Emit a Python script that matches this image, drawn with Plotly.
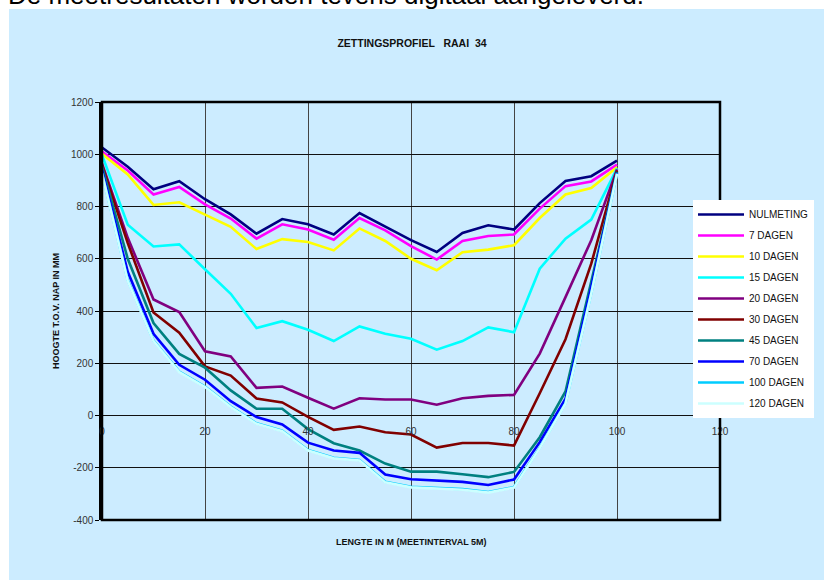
import plotly.graph_objects as go

# ---- data ----
x_m = [0, 5, 10, 15, 20, 25, 30, 35, 40, 45, 50, 55, 60, 65, 70, 75, 80, 85, 90, 95, 100]

nulmeting = [1026, 952, 866, 897, 828, 770, 696, 752, 732, 693, 775, 724, 671, 626, 699, 728, 712, 813, 898, 916, 976]
dagen_7 = [1010, 938, 846, 875, 808, 754, 677, 732, 712, 673, 756, 709, 648, 597, 668, 687, 693, 792, 878, 896, 960]
dagen_10 = [1002, 923, 806, 816, 769, 722, 637, 675, 664, 632, 716, 668, 600, 556, 625, 635, 652, 756, 846, 871, 950]
dagen_15 = [997, 730, 647, 655, 560, 466, 335, 361, 328, 285, 341, 313, 294, 252, 285, 337, 319, 562, 677, 750, 946]
dagen_20 = [965, 680, 444, 396, 246, 226, 106, 111, 68, 26, 66, 61, 61, 41, 66, 75, 79, 237, 453, 671, 942]
dagen_30 = [958, 660, 394, 317, 188, 153, 65, 50, -5, -55, -42, -64, -73, -123, -105, -105, -115, 85, 292, 581, 937]
dagen_45 = [953, 600, 354, 236, 183, 96, 26, 26, -52, -106, -134, -184, -215, -215, -225, -236, -216, -83, 92, 517, 933]
dagen_70 = [940, 550, 313, 194, 137, 55, -6, -34, -104, -134, -143, -226, -244, -249, -254, -266, -245, -102, 64, 492, 929]
dagen_100 = [928, 518, 287, 168, 111, 34, -30, -58, -132, -162, -170, -254, -273, -278, -282, -293, -274, -123, 47, 468, 926]
dagen_120 = [926, 515, 285, 166, 109, 32, -32, -60, -134, -164, -172, -256, -275, -280, -284, -295, -276, -125, 45, 466, 925]

series_names = ["NULMETING", "7 DAGEN", "10 DAGEN", "15 DAGEN", "20 DAGEN",
                "30 DAGEN", "45 DAGEN", "70 DAGEN", "100 DAGEN", "120 DAGEN"]
series_values = [nulmeting, dagen_7, dagen_10, dagen_15, dagen_20,
                 dagen_30, dagen_45, dagen_70, dagen_100, dagen_120]
series_colors = ["#000080", "#FF00FF", "#FFFF00", "#00FFFF", "#800080",
                 "#800000", "#008080", "#0000FF", "#00CCFF", "#CCFFFF"]

x_ticks = [0, 20, 40, 60, 80, 100, 120]
y_ticks = [-400, -200, 0, 200, 400, 600, 800, 1000, 1200]

FONT = "Arial, Liberation Sans, sans-serif"

fig = go.Figure()
for i, (name, vals, col) in enumerate(zip(series_names, series_values, series_colors)):
    fig.add_trace(go.Scatter(
        x=x_m, y=vals, mode="lines", name=name,
        line=dict(color=col, width=2.6),
        legendgroup=f"g{i}",
    ))

# plot-area pixel geometry: x 102..720, y 102..520
L, R, T, B = 102, 720, 102, 520
W, H = 824, 584
pw, ph = R - L, B - T

def px_x(px):
    return (px - L) / pw

def px_y(py):
    return (B - py) / ph

fig.update_layout(
    width=W, height=H,
    margin=dict(l=L, r=W - R, t=T, b=H - B, pad=0, autoexpand=False),
    paper_bgcolor="white",
    plot_bgcolor="white",
    font=dict(family=FONT, size=10, color="#222222"),
    title=dict(text="<b>ZETTINGSPROFIEL   RAAI  34</b>",
               x=px_x(412), xref="paper", y=1 - 43 / H, yref="container",
               xanchor="center", yanchor="middle",
               font=dict(family=FONT, size=10.5, color="#111111")),
    xaxis=dict(range=[0, 120], tickvals=x_ticks, ticktext=[str(v) for v in x_ticks],
               anchor="free", position=px_y(415), showline=False, zeroline=False,
               showgrid=True, gridcolor="#444444", gridwidth=1,
               ticks="", tickfont=dict(family=FONT, size=10, color="#333333"),
               ticklabelstandoff=9),
    yaxis=dict(range=[-400, 1200], tickvals=y_ticks, ticktext=[str(v) for v in y_ticks],
               showline=True, linecolor="black", linewidth=2.5,
               ticks="outside", ticklen=4, tickcolor="black",
               showgrid=True, gridcolor="#111111", gridwidth=1,
               zeroline=True, zerolinecolor="#111111", zerolinewidth=1,
               tickfont=dict(family=FONT, size=10, color="#333333")),
    legend=dict(x=px_x(693), y=px_y(200), xanchor="left", yanchor="top",
                bgcolor="white", borderwidth=0, tracegroupgap=2.0,
                font=dict(family=FONT, size=10, color="#111111"),
                itemwidth=46),
    showlegend=True,
)

# light-blue panel behind the chart
fig.add_shape(type="rect", xref="paper", yref="paper", layer="below",
              x0=px_x(9), x1=px_x(830), y0=px_y(580), y1=px_y(9),
              fillcolor="#CCECFF", line=dict(width=0))
# plot-area border
fig.add_shape(type="rect", xref="paper", yref="paper", layer="above",
              x0=0, x1=1, y0=0, y1=1,
              fillcolor="rgba(0,0,0,0)", line=dict(color="black", width=2.5))

# axis titles and page text
fig.add_annotation(text="<b>HOOGTE T.O.V. NAP IN MM</b>", xref="paper", yref="paper",
                   x=px_x(49), y=px_y(311), textangle=-90, showarrow=False,
                   font=dict(family=FONT, size=9, color="#111111"))
fig.add_annotation(text="<b>LENGTE IN M (MEETINTERVAL 5M)</b>", xref="paper", yref="paper",
                   x=px_x(411), y=px_y(549), showarrow=False,
                   font=dict(family=FONT, size=9, color="#111111"))
fig.add_annotation(text="De meetresultaten worden tevens digitaal aangeleverd.",
                   xref="paper", yref="paper", x=px_x(6), y=px_y(12),
                   xanchor="left", yanchor="bottom", showarrow=False,
                   font=dict(family=FONT, size=26, color="black"))

fig.write_html("out.html", config={"displayModeBar": False},
               post_script="document.body.style.margin='0';")
